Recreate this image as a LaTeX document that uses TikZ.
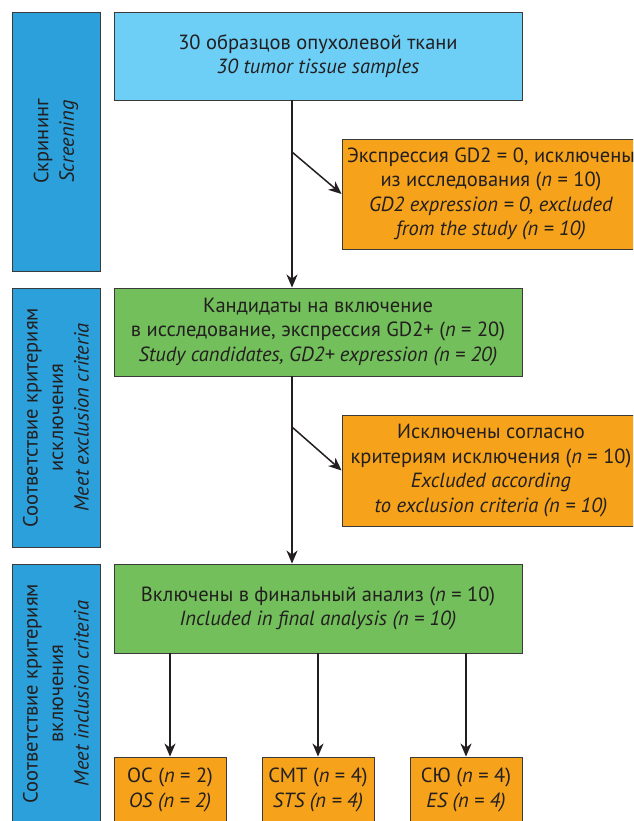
\documentclass[tikz,border=0pt]{standalone}
\usepackage{fontspec}
\setmainfont{PT Sans}
\usetikzlibrary{arrows.meta}
\definecolor{sidec}{HTML}{2BA0DA}
\definecolor{topc}{HTML}{6DCFF6}
\definecolor{greenc}{HTML}{72BF5B}
\definecolor{orangec}{HTML}{F6A31B}
\definecolor{inkc}{HTML}{231F20}
\definecolor{edgec}{HTML}{3A3A3A}
\tikzset{
  basebox/.style={draw=edgec, line width=0.9pt, inner sep=0pt, align=center, text=inkc,
    font=\fontsize{20.5}{24.6}\selectfont},
  sidebox/.style={basebox, fill=sidec, rotate=90, minimum width=259pt, minimum height=88pt,
    font=\fontsize{20.5}{25.5}\selectfont},
  topbox/.style={basebox, fill=topc, minimum width=408pt, minimum height=88pt},
  greenbox/.style={basebox, fill=greenc, minimum width=408pt},
  orangebox/.style={basebox, fill=orangec, minimum width=298pt},
  leafbox/.style={basebox, fill=orangec, minimum width=112pt, minimum height=66pt},
  arr/.style={draw=inkc, line width=1.5pt, -{Stealth[length=13pt,width=11pt,inset=4pt]}}
}
\begin{document}
\begin{tikzpicture}[x=1pt,y=-1pt]
\useasboundingbox (0,0) rectangle (633,821);
\clip (0,0) rectangle (633,821);
% sidebars
\node[sidebox] (s1) at (56,141.5) {Скрининг\\\textit{Screening}};
\node[sidebox] (s2) at (56,417.5) {Соответствие критериям\\исключения\\\textit{Meet exclusion criteria}};
\node[sidebox] (s3) at (56,693.5) {Соответствие критериям\\включения\\\textit{Meet inclusion criteria}};
% main boxes
\node[topbox] (top) at (318,56) {30 образцов опухолевой ткани\\\textit{30 tumor tissue samples}};
\node[orangebox, minimum height=110pt] (o1) at (491,194) {Экспрессия GD2 = 0, исключены\\из исследования (\textit{n} = 10)\\\textit{GD2 expression = 0, excluded}\\\textit{from the study (n = 10)}};
\node[greenbox, minimum height=88pt] (g2) at (318,332) {Кандидаты на включение\\в исследование, экспрессия GD2+ (\textit{n} = 20)\\\textit{Study candidates, GD2+ expression (n = 20)}};
\node[orangebox, minimum height=111pt] (o2) at (491,470.5) {Исключены согласно\\критериям исключения (\textit{n} = 10)\\\textit{Excluded according}\\\textit{to exclusion criteria (n = 10)}};
\node[greenbox, minimum height=89pt] (g3) at (318,608.5) {Включены в финальный анализ (\textit{n} = 10)\\\textit{Included in final analysis (n = 10)}};
\node[leafbox] (l1) at (170,790) {ОС (\textit{n} = 2)\\\textit{OS (n = 2)}};
\node[leafbox] (l2) at (318,790) {СМТ (\textit{n} = 4)\\\textit{STS (n = 4)}};
\node[leafbox] (l3) at (466,790) {СЮ (\textit{n} = 4)\\\textit{ES (n = 4)}};
% connectors
\coordinate (b1) at (292,152);
\coordinate (b2) at (292,427);
\draw[line width=1.5pt, draw=inkc] (top.south -| b1) -- (b1);
\draw[arr] (b1) -- (g2.north -| b1);
\draw[arr] (b1) -- (o1.west);
\draw[line width=1.5pt, draw=inkc] (g2.south -| b2) -- (b2);
\draw[arr] (b2) -- (g3.north -| b2);
\draw[arr] (b2) -- (o2.west);
\draw[arr] (g3.south -| l1.north) -- (l1.north);
\draw[arr] (g3.south -| l2.north) -- (l2.north);
\draw[arr] (g3.south -| l3.north) -- (l3.north);
\end{tikzpicture}
\end{document}
